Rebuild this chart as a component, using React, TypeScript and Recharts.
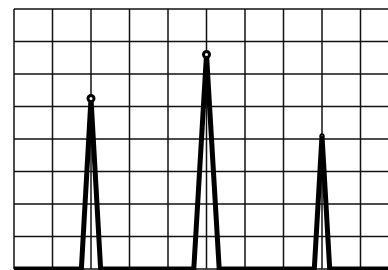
import { LineChart, Line, XAxis, YAxis, CartesianGrid } from "recharts";

// positions along the x axis (grid step = 1) and heights of the trace
const xValues = [0, 1.75, 2, 2.25, 4.67, 5, 5.33, 7.8, 8, 8.2, 10];
const yValues = [0, 0, 5.25, 0, 0, 6.6, 0, 0, 4.1, 0, 0];

const xTicks = [0, 1, 2, 3, 4, 5, 6, 7, 8, 9, 10];
const yTicks = [0, 1, 2, 3, 4, 5, 6, 7, 8];

const data = xValues.map((x, i) => ({ x, y: yValues[i] }));

function PeakDot(props: any) {
  const { cx, cy, payload, index } = props;
  if (!payload || payload.y <= 0) return <g key={`d-${index}`} />;
  const small = payload.y < 5;
  return (
    <circle
      key={`d-${index}`}
      cx={cx}
      cy={cy}
      r={small ? 1.5 : 3}
      fill="#fff"
      stroke="#000"
      strokeWidth={small ? 2 : 3}
    />
  );
}

export default function App() {
  return (
    <div
      style={{
        position: "absolute",
        left: 0,
        top: 0,
        width: 388,
        height: 270,
        overflow: "hidden",
        background: "#fff",
      }}
    >
      <LineChart
        width={400}
        height={270}
        data={data}
        margin={{ top: 9, right: 1, left: 14, bottom: 1 }}
      >
        <CartesianGrid stroke="#111" strokeWidth={1.5} />
        <XAxis
          dataKey="x"
          type="number"
          domain={[0, 10]}
          ticks={xTicks}
          hide
        />
        <YAxis type="number" domain={[0, 8]} ticks={yTicks} hide />
        <Line
          type="linear"
          dataKey="y"
          stroke="#000"
          strokeWidth={5}
          dot={PeakDot}
          activeDot={false}
          isAnimationActive={false}
        />
      </LineChart>
    </div>
  );
}
